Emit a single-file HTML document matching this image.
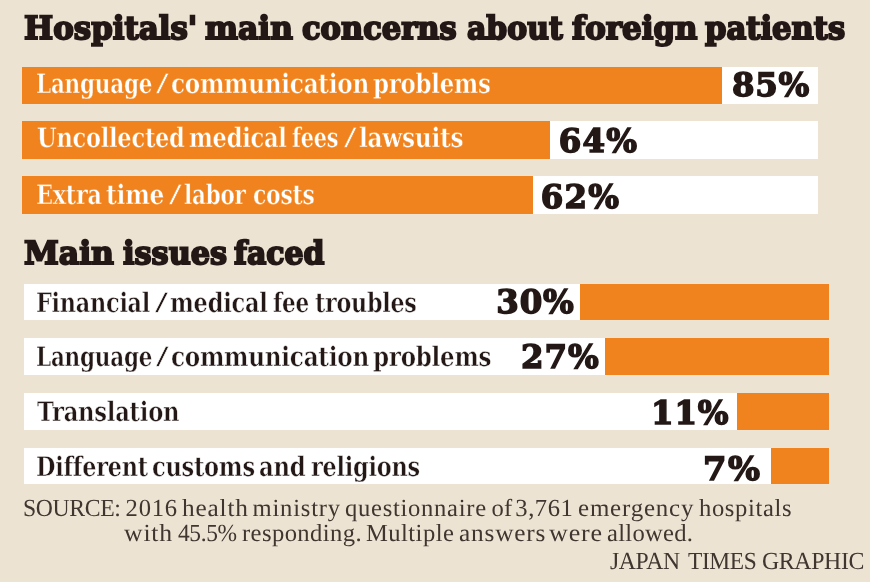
<!DOCTYPE html>
<html lang="en">
<head>
<meta charset="utf-8">
<title>Hospitals' main concerns about foreign patients</title>
<style>
html,body{margin:0;padding:0;}
body{width:870px;height:582px;background:#ece3d3;position:relative;overflow:hidden;color:#231815;}
div,h1,h2,p{text-rendering:geometricPrecision;position:absolute;margin:0;padding:0;white-space:nowrap;}
h1,h2,p{left:0;width:870px;height:0;font-size:0;}
span{display:inline-block;position:relative;vertical-align:top;width:0;white-space:nowrap;text-rendering:geometricPrecision;transform-origin:0 0;}
h1 span,h2 span{font-family:"DejaVu Serif","Liberation Serif",serif;font-weight:bold;font-size:32px;line-height:40px;-webkit-text-stroke:2.0px #231815;}
.bar{background:#fff;}
.fill{background:#f0831d;}
.lab span{font-family:"DejaVu Serif","Liberation Serif",serif;font-weight:bold;font-size:27px;line-height:30px;-webkit-text-stroke:0.45px #fff;}
.w span{color:#fff;-webkit-text-stroke-color:#f0831d;}
.pct span{font-family:"DejaVu Serif","Liberation Serif",serif;font-weight:bold;font-size:32.4px;line-height:36px;-webkit-text-stroke:1.5px #231815;}
.src span{font-family:"Liberation Serif","DejaVu Serif",serif;font-size:24.6px;line-height:26px;-webkit-text-stroke:0px #40362f;color:#40362f;}
</style>
</head>
<body>
<div class="bar" style="left:22px;top:67px;width:796px;height:37px;"></div><div class="fill" style="left:22px;top:67px;width:700.4px;height:37px;"></div>
<div class="bar" style="left:22px;top:121.4px;width:796px;height:38px;"></div><div class="fill" style="left:22px;top:121.4px;width:527.8px;height:38px;"></div>
<div class="bar" style="left:22px;top:176px;width:796px;height:37.5px;"></div><div class="fill" style="left:22px;top:176px;width:510.9px;height:37.5px;"></div>
<div class="bar" style="left:24.2px;top:283.5px;width:804.8px;height:36.9px;"></div><div class="fill" style="left:580.4px;top:283.5px;width:248.6px;height:36.9px;"></div>
<div class="bar" style="left:24.2px;top:338px;width:804.8px;height:36.9px;"></div><div class="fill" style="left:605.3px;top:338px;width:223.7px;height:36.9px;"></div>
<div class="bar" style="left:24.2px;top:392.6px;width:804.8px;height:37.8px;"></div><div class="fill" style="left:737.3px;top:392.6px;width:91.7px;height:37.8px;"></div>
<div class="bar" style="left:24.2px;top:448.2px;width:804.8px;height:36.2px;"></div><div class="fill" style="left:770.7px;top:448.2px;width:58.3px;height:36.2px;"></div>
<h1 style="top:8px;"><span style="left:23.8px;transform:scaleX(0.965);">Hospitals'</span> <span style="left:204.94px;transform:scaleX(0.976);">main</span> <span style="left:302.43px;transform:scaleX(0.954);">concerns</span> <span style="left:467.01px;transform:scaleX(0.934);">about</span> <span style="left:571.71px;transform:scaleX(0.964);">foreign</span> <span style="left:705.17px;transform:scaleX(0.957);">patients</span></h1>
<p class="lab w" style="top:70px;"><span style="left:36.36px;letter-spacing:-0.3px;transform:scaleX(0.797);">Language</span> <span style="left:155.52px;top:0.89px;font-weight:normal;transform:scale(1.388,0.890);">/</span> <span style="left:170.92px;letter-spacing:-0.3px;transform:scaleX(0.855);">communication</span> <span style="left:373.14px;letter-spacing:-0.3px;transform:scaleX(0.848);">problems</span></p>
<p class="pct" style="top:67px;"><span style="left:731.91px;letter-spacing:0.71px;">85%</span></p>
<p class="lab w" style="top:124px;"><span style="left:36.98px;letter-spacing:-0.3px;transform:scaleX(0.834);">Uncollected</span> <span style="left:188.97px;letter-spacing:-0.3px;transform:scaleX(0.835);">medical</span> <span style="left:291.55px;letter-spacing:-0.3px;transform:scaleX(0.773);">fees</span> <span style="left:343.53px;top:0.89px;font-weight:normal;transform:scale(1.375,0.890);">/</span> <span style="left:358.64px;letter-spacing:-0.3px;transform:scaleX(0.859);">lawsuits</span></p>
<p class="pct" style="top:123px;"><span style="left:558.86px;letter-spacing:1.16px;">64%</span></p>
<p class="lab w" style="top:181px;"><span style="left:36.3px;letter-spacing:-0.3px;transform:scaleX(0.828);">Extra</span> <span style="left:106.31px;letter-spacing:-0.3px;transform:scaleX(0.865);">time</span> <span style="left:168.52px;top:0.89px;font-weight:normal;transform:scale(1.388,0.890);">/</span> <span style="left:183.53px;letter-spacing:-0.3px;transform:scaleX(0.797);">labor</span> <span style="left:252.79px;letter-spacing:-0.3px;transform:scaleX(0.812);">costs</span></p>
<p class="pct" style="top:179px;"><span style="left:540.76px;letter-spacing:1.21px;">62%</span></p>
<h2 style="top:233px;"><span style="left:24.12px;transform:scaleX(0.982);">Main</span> <span style="left:122.64px;transform:scaleX(0.948);">issues</span> <span style="left:233.81px;transform:scaleX(0.936);">faced</span></h2>
<p class="lab" style="top:289px;"><span style="left:36.3px;letter-spacing:-0.3px;transform:scaleX(0.827);">Financial</span> <span style="left:154.69px;top:0.89px;font-weight:normal;transform:scale(1.428,0.890);">/</span> <span style="left:170.28px;letter-spacing:-0.3px;transform:scaleX(0.834);">medical</span> <span style="left:273.42px;letter-spacing:-0.3px;transform:scaleX(0.801);">fee</span> <span style="left:314.56px;letter-spacing:-0.3px;transform:scaleX(0.823);">troubles</span></p>
<p class="pct" style="top:284px;"><span style="left:496.35px;letter-spacing:0.82px;">30%</span></p>
<p class="lab" style="top:343px;"><span style="left:36.36px;letter-spacing:-0.3px;transform:scaleX(0.797);">Language</span> <span style="left:155.72px;top:0.89px;font-weight:normal;transform:scale(1.388,0.890);">/</span> <span style="left:170.92px;letter-spacing:-0.3px;transform:scaleX(0.855);">communication</span> <span style="left:373.13px;letter-spacing:-0.3px;transform:scaleX(0.851);">problems</span></p>
<p class="pct" style="top:339px;"><span style="left:521.11px;letter-spacing:0.93px;">27%</span></p>
<p class="lab" style="top:398px;"><span style="left:37.38px;letter-spacing:-0.3px;transform:scaleX(0.839);">Translation</span></p>
<p class="pct" style="top:395px;"><span style="left:651.06px;letter-spacing:0.81px;">11%</span></p>
<p class="lab" style="top:453px;"><span style="left:36.3px;letter-spacing:-0.3px;transform:scaleX(0.829);">Different</span> <span style="left:152.26px;letter-spacing:-0.3px;transform:scaleX(0.833);">customs</span> <span style="left:259.12px;letter-spacing:-0.3px;transform:scaleX(0.843);">and</span> <span style="left:311.12px;letter-spacing:-0.3px;transform:scaleX(0.830);">religions</span></p>
<p class="pct" style="top:451px;"><span style="left:703.44px;letter-spacing:1.5px;transform:scaleX(1.040);">7%</span></p>
<p class="src" style="top:496px;"><span style="left:23.21px;letter-spacing:-0.4px;transform:scaleX(0.964);">SOURCE:</span> <span style="left:125.59px;letter-spacing:0.8px;">2016</span> <span style="left:182.47px;letter-spacing:0.8px;transform:scaleX(1.028);">health</span> <span style="left:252.55px;letter-spacing:0.8px;">ministry</span> <span style="left:345.04px;letter-spacing:0.71px;">questionnaire</span> <span style="left:491.61px;letter-spacing:0.01px;">of</span> <span style="left:515.34px;letter-spacing:0.54px;">3,761</span> <span style="left:577.59px;letter-spacing:0.8px;transform:scaleX(1.014);">emergency</span> <span style="left:699px;letter-spacing:0.64px;">hospitals</span></p>
<p class="src" style="top:521px;"><span style="left:124.14px;letter-spacing:0.8px;transform:scaleX(1.044);">with</span> <span style="left:178.33px;letter-spacing:-0.4px;transform:scaleX(0.953);">45.5%</span> <span style="left:241.95px;letter-spacing:0.43px;">responding.</span> <span style="left:366.04px;letter-spacing:0.44px;">Multiple</span> <span style="left:459.02px;letter-spacing:0.8px;transform:scaleX(1.029);">answers</span> <span style="left:549.43px;letter-spacing:0.8px;transform:scaleX(1.059);">were</span> <span style="left:607.05px;letter-spacing:0.26px;">allowed.</span></p>
<p class="src" style="top:549px;"><span style="left:610.17px;letter-spacing:-0.4px;transform:scaleX(0.964);">JAPAN</span> <span style="left:687.92px;letter-spacing:-0.4px;transform:scaleX(0.952);">TIMES</span> <span style="left:761.69px;letter-spacing:-0.4px;transform:scaleX(0.970);">GRAPHIC</span></p>
</body>
</html>
